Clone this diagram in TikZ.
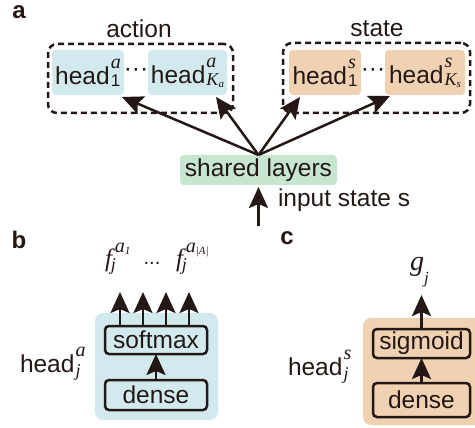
\documentclass[tikz,border=0pt]{standalone}
\usepackage{fontspec}
\setmainfont{Liberation Sans}
\newfontfamily\tms{Liberation Serif}
\usetikzlibrary{arrows.meta,calc}
\definecolor{ink}{HTML}{231815}
\definecolor{hblue}{HTML}{D2EAEE}
\definecolor{horange}{HTML}{F0D2B2}
\definecolor{hgreen}{HTML}{C6E6D0}
\newsavebox\mysupb
\newsavebox\mysubb
\newlength\myscw
% #1 sup, #2 sub, #3 raise, #4 lower
\newcommand{\mysupsub}[4]{%
  \sbox\mysupb{#1}\sbox\mysubb{#2}%
  \setlength\myscw{\wd\mysupb}%
  \ifdim\wd\mysubb>\myscw\setlength\myscw{\wd\mysubb}\fi
  \kern1pt\rlap{\raisebox{#3}{\usebox\mysupb}}\raisebox{-#4}{\makebox[\myscw][l]{\usebox\mysubb}}}
\newcommand{\mysupf}{\fontsize{20}{20}\selectfont\tms\itshape}
\newcommand{\mysubf}{\fontsize{17}{17}\selectfont}
\newcommand{\mysubi}{\fontsize{18}{18}\selectfont\tms\itshape}
\newcommand{\mytiny}{\fontsize{11}{11}\selectfont}
\begin{document}
\begin{tikzpicture}[x=1pt,y=-1pt,
  font=\fontsize{24.5}{28}\selectfont, text=ink,
  every node/.style={inner sep=0pt, outer sep=0pt},
  headA/.style={fill=hblue, rounded corners=4pt, minimum height=45pt},
  headS/.style={fill=horange, rounded corners=4pt, minimum height=45pt},
  group/.style={draw=ink, line width=2.5pt, dash pattern=on 6pt off 4pt, rounded corners=9pt},
  conn/.style={draw=ink, line width=2.5pt, -{Stealth[length=21pt,width=19pt,inset=4pt]}},
  layer/.style={draw=ink, line width=2.5pt, rounded corners=4pt},
  panel/.style={font=\fontsize{24}{28}\selectfont\bfseries, anchor=base}
]
\useasboundingbox (0,0) rectangle (475,428);
% panel a
\node[panel] (la) at (19,19) {a};
\node[group, minimum width=185pt, minimum height=69pt] (actg) at (140.5,78.5) {};
\node[group, minimum width=187pt, minimum height=70pt] (stg) at (376.5,78) {};
\node[anchor=base] (actl) at (139,38) {action};
\node[anchor=base] (stl) at (377,37) {state};
\node[headA, minimum width=72pt] (h1a) at (88,72.5) {head\mysupsub{\mysupf a}{\mysubf 1}{16pt}{2pt}};
\node[headA, minimum width=79pt] (hKa) at (187.5,72.5) {head\mysupsub{\mysupf a}{\mysubi K\raisebox{-2pt}{\mytiny\tms\itshape a}}{16pt}{2pt}};
\node[headS, minimum width=72pt] (h1s) at (325,72.5) {head\mysupsub{\mysupf s}{\mysubf 1}{16pt}{2pt}};
\node[headS, minimum width=80pt] (hKs) at (425,72.5) {head\mysupsub{\mysupf s}{\mysubi K\raisebox{-2pt}{\mytiny\tms\itshape s}}{16pt}{2pt}};
\node (d1) at (136,73) {\textperiodcentered\textperiodcentered\textperiodcentered};
\node (d2) at (373,73) {\textperiodcentered\textperiodcentered\textperiodcentered};
\node[fill=hgreen, rounded corners=4pt, minimum width=157pt, minimum height=30pt] (shared) at (258.5,170) {shared layers};
\draw[conn] (shared.north) -- ([xshift=-2pt,yshift=-2pt]h1a.south east);
\draw[conn] (shared.north) -- ([xshift=-11pt,yshift=-2pt]hKa.south east);
\draw[conn] (shared.north) -- ([xshift=11pt,yshift=-2pt]h1s.south west);
\draw[conn] (shared.north) -- ([xshift=5pt,yshift=-1pt]hKs.south west);
\coordinate (inp) at (258.5,226);
\draw[conn, shorten >=2pt] (inp) -- (shared.south);
\node[anchor=base west] (inlab) at (278,207) {input state s};
% panel b
\node[panel] (lb) at (19,248) {b};
\node[fill=hblue, rounded corners=8pt, minimum width=123pt, minimum height=107pt] (hbA) at (156.5,366.5) {};
\node[layer, minimum width=102pt, minimum height=28pt] (soft) at (156,340) {softmax};
\node[layer, minimum width=102pt, minimum height=30pt] (den1) at (156,395) {dense};
\foreach \i/\x in {1/120,2/143,3/166,4/189}{
  \coordinate (o\i) at (\x,292);
  \draw[conn] (o\i |- soft.north) -- (o\i);
}
\draw[conn] (den1.north) -- (soft.south);
\node[anchor=base west] (f1) at (105,267) {{\fontsize{25}{25}\selectfont\tms\itshape f}\rlap{\kern-1pt\raisebox{-4pt}{\mysubi j}}\kern3pt\raisebox{15pt}{\mysupf a\raisebox{-2pt}{\mytiny 1}}};
\node[anchor=base] (fd) at (152,265) {\fontsize{20}{20}\selectfont...};
\node[anchor=base west] (f2) at (176,267) {{\fontsize{25}{25}\selectfont\tms\itshape f}\rlap{\kern-1pt\raisebox{-4pt}{\mysubi j}}\kern3pt\raisebox{15pt}{\mysupf a\raisebox{-2pt}{\mytiny |A|}}};
\node[anchor=base west] (labA) at (20,372) {head\mysupsub{\mysupf a}{\mysubi j}{16pt}{4pt}};
% panel c
\node[panel] (lc) at (287,245) {c};
\node[fill=horange, rounded corners=8pt, minimum width=125pt, minimum height=107pt] (hbS) at (425.5,371.5) {};
\node[layer, minimum width=97pt, minimum height=29pt] (sig) at (421.5,343.5) {sigmoid};
\node[layer, minimum width=97pt, minimum height=34pt] (den2) at (421.5,400) {dense};
\node[anchor=base west] (g) at (410,271) {{\fontsize{28}{28}\selectfont\tms\itshape g}\raisebox{-13pt}{\fontsize{17}{17}\selectfont\tms\itshape j}};
\coordinate (gt) at (421.5,295);
\draw[conn] (sig.north) -- (gt);
\draw[conn] (den2.north) -- (sig.south);
\node[anchor=base west] (labS) at (288,375) {head\mysupsub{\mysupf s}{\mysubi j}{16pt}{4pt}};
\end{tikzpicture}
\end{document}
